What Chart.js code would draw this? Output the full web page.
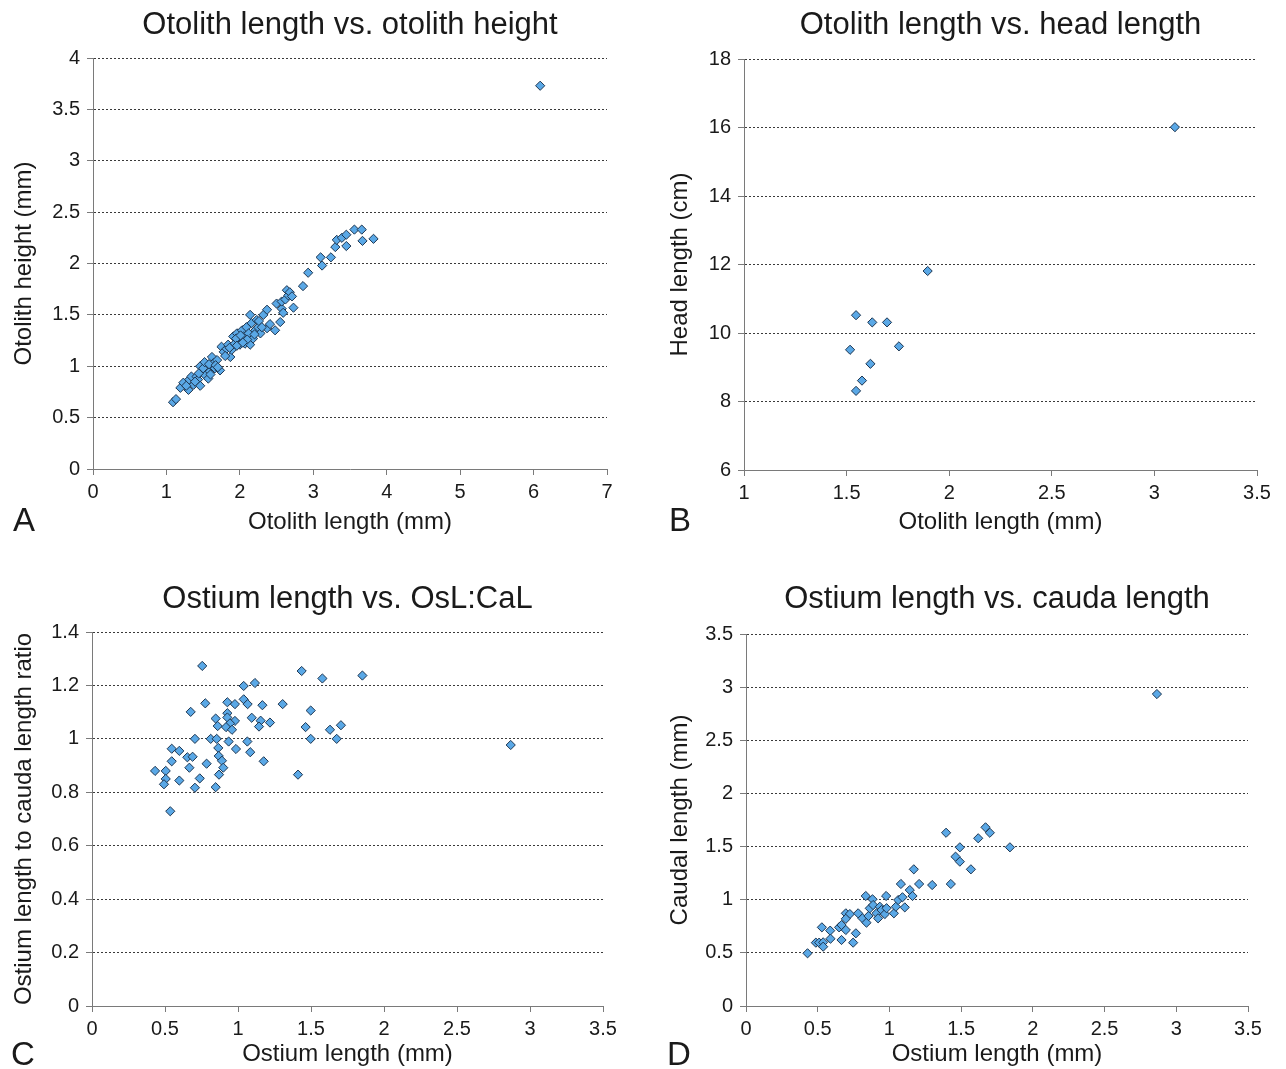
<!DOCTYPE html>
<html>
<head>
<meta charset="utf-8">
<script src="https://cdn.jsdelivr.net/npm/chart.js@4/dist/chart.umd.min.js"></script>
<style>
  html, body { margin: 0; padding: 0; background: #fff; }
  #wrap { position: relative; width: 1286px; height: 1069px; }
  #wrap canvas { position: absolute; }
</style>
</head>
<body>
<div id="wrap">
  <canvas id="chartA" width="643" height="540" style="left:0;top:0"></canvas>
  <canvas id="chartB" width="643" height="540" style="left:643px;top:0"></canvas>
  <canvas id="chartC" width="643" height="529" style="left:0;top:540px"></canvas>
  <canvas id="chartD" width="643" height="529" style="left:643px;top:540px"></canvas>
</div>
<script>
// ── DATA ─────────────────────────────────────────
// A: otolith length vs otolith height (mm)
const otoLenA = [
  1.09, 1.13, 1.19, 1.23, 1.30, 1.31, 1.34, 1.37, 1.41, 1.43, 1.46, 1.46, 1.49, 1.53,
  1.55, 1.57, 1.59, 1.62, 1.62, 1.64, 1.66, 1.69, 1.73, 1.75, 1.78, 1.82, 1.84, 1.87,
  1.89, 1.91, 1.93, 1.96, 1.98, 2.00, 2.03, 2.05, 2.07, 2.09, 2.12, 2.14, 2.16, 2.14,
  2.18, 2.21, 2.23, 2.25, 2.28, 2.32, 2.37, 2.37, 2.48, 2.55, 2.50, 2.57, 2.59, 2.57,
  2.62, 2.64, 2.66, 2.68, 2.71, 2.73, 2.86, 2.93, 3.10, 3.12, 3.24, 3.30, 3.32, 3.39,
  3.45, 3.45, 3.56, 3.66, 3.67, 3.82, 6.09,
  1.50, 1.52, 1.58, 1.60, 1.67, 1.70, 1.44, 1.39, 1.27, 1.80, 1.86, 1.95, 2.01, 2.10,
  2.20, 2.26, 1.96, 2.04, 2.30, 2.41
];
const otoHgtA = [
  0.65, 0.68, 0.79, 0.84, 0.77, 0.87, 0.90, 0.82, 0.90, 0.87, 0.81, 1.00, 0.95, 0.91,
  1.00, 0.88, 0.95, 1.09, 1.00, 1.03, 0.98, 1.06, 0.96, 1.19, 1.14, 1.17, 1.21, 1.09,
  1.16, 1.29, 1.22, 1.32, 1.26, 1.21, 1.35, 1.29, 1.22, 1.38, 1.32, 1.50, 1.42, 1.21,
  1.27, 1.35, 1.45, 1.38, 1.32, 1.50, 1.37, 1.55, 1.35, 1.43, 1.61, 1.56, 1.52, 1.63,
  1.65, 1.74, 1.69, 1.72, 1.68, 1.57, 1.78, 1.91, 2.06, 1.98, 2.06, 2.16, 2.23, 2.25,
  2.28, 2.17, 2.33, 2.33, 2.22, 2.24, 3.73,
  0.98, 1.04, 1.02, 0.92, 1.01, 0.99, 0.93, 0.85, 0.81, 1.10, 1.18, 1.27, 1.30, 1.26,
  1.31, 1.44, 1.20, 1.23, 1.38, 1.41
];
const xTicksA = [0, 1, 2, 3, 4, 5, 6, 7];
const yTicksA = [0, 0.5, 1, 1.5, 2, 2.5, 3, 3.5, 4];

// B: otolith length (mm) vs head length (cm)
const otoLenB  = [1.895, 1.546, 1.625, 1.697, 1.517, 1.755, 1.616, 1.575, 1.546, 3.10];
const headLenB = [11.81, 10.52, 10.31, 10.31, 9.51, 9.61, 9.10, 8.61, 8.31, 16.01];
const xTicksB = [1, 1.5, 2, 2.5, 3, 3.5];
const yTicksB = [6, 8, 10, 12, 14, 16, 18];

// C: ostium length (mm) vs OsL:CaL ratio
const ostLenC = [
  0.755, 1.436, 1.578, 1.852, 1.039, 1.116, 0.776, 0.927, 0.979, 1.039, 1.066, 1.167,
  1.306, 0.676, 1.498, 0.927, 0.847, 0.927, 0.979, 1.094, 1.155, 1.219, 0.945, 0.861,
  0.918, 0.959, 1.144, 1.463, 1.630, 1.705, 0.705, 0.813, 0.854, 0.936, 1.064, 1.498,
  1.676, 0.546, 0.598, 0.865, 0.986, 1.084, 0.653, 0.689, 0.546, 0.868, 0.890, 0.785,
  1.176, 0.667, 0.899, 0.432, 0.505, 0.870, 1.411, 0.505, 0.598, 0.738, 0.493, 0.705,
  0.847, 0.536, 2.868
];
const ratioC = [
  1.273, 1.254, 1.226, 1.237, 1.198, 1.209, 1.133, 1.137, 1.130, 1.148, 1.130, 1.126,
  1.130, 1.101, 1.106, 1.096, 1.076, 1.080, 1.067, 1.079, 1.068, 1.061, 1.058, 1.048,
  1.044, 1.034, 1.046, 1.044, 1.034, 1.051, 1.000, 1.000, 1.000, 0.990, 0.990, 1.000,
  1.000, 0.963, 0.955, 0.966, 0.962, 0.950, 0.931, 0.933, 0.916, 0.936, 0.918, 0.907,
  0.916, 0.892, 0.892, 0.880, 0.880, 0.866, 0.866, 0.850, 0.844, 0.852, 0.830, 0.817,
  0.819, 0.729, 0.977
];
const xTicksC = [0, 0.5, 1, 1.5, 2, 2.5, 3, 3.5];
const yTicksC = [0, 0.2, 0.4, 0.6, 0.8, 1, 1.2, 1.4];

// D: ostium length vs cauda length (mm)
const ostLenD = [
  0.429, 0.487, 0.510, 0.538, 0.538, 0.529, 0.587, 0.589, 0.649, 0.666, 0.696, 0.666,
  0.696, 0.724, 0.696, 0.747, 0.766, 0.782, 0.812, 0.835, 0.840, 0.854, 0.863, 0.882,
  0.886, 0.910, 0.921, 0.933, 0.945, 0.968, 0.977, 0.980, 1.031, 1.045, 1.061, 1.091,
  1.107, 1.080, 1.142, 1.161, 1.170, 1.207, 1.298, 1.395, 1.428, 1.461, 1.491, 1.491,
  1.568, 1.619, 1.670, 1.700, 1.840, 2.865
];
const caudaD = [
  0.496, 0.596, 0.596, 0.599, 0.558, 0.740, 0.709, 0.633, 0.740, 0.762, 0.715, 0.621,
  0.872, 0.865, 0.820, 0.596, 0.684, 0.872, 0.825, 1.035, 0.784, 0.847, 0.919, 1.004,
  0.950, 0.872, 0.825, 0.934, 0.903, 0.865, 1.035, 0.920, 0.872, 0.934, 0.997, 1.023,
  0.928, 1.148, 1.091, 1.035, 1.286, 1.148, 1.138, 1.630, 1.148, 1.405, 1.358, 1.493,
  1.286, 1.578, 1.681, 1.630, 1.493, 2.935
];
const xTicksD = [0, 0.5, 1, 1.5, 2, 2.5, 3, 3.5];
const yTicksD = [0, 0.5, 1, 1.5, 2, 2.5, 3, 3.5];

// ── STYLE ────────────────────────────────────────
const FONT      = '"Liberation Sans", Arial, Helvetica, sans-serif';
const INK       = "#1a1a1a";
const AXIS_GREY = "#7a7a7a";
const GRID_GREY = "#3a3a3a";
const DOT_FILL  = "#5aa8e6";
const DOT_LINE  = "#1d3550";

// titles + panel letters, title centred over the plot area
const panelText = {
  id: "panelText",
  afterDraw(chart, args, o) {
    const { ctx, chartArea } = chart;
    ctx.save();
    ctx.fillStyle = INK;
    ctx.textBaseline = "alphabetic";
    ctx.font = "31px " + FONT;
    ctx.textAlign = "center";
    ctx.fillText(o.title, (chartArea.left + chartArea.right) / 2, o.titleY);
    ctx.font = "33px " + FONT;
    ctx.textAlign = "left";
    ctx.fillText(o.letter, o.letterX, o.letterY);
    ctx.restore();
  },
};

function pts(xs, ys) {
  return xs.map((x, i) => ({ x, y: ys[i] }));
}

// "1" not "1.0", like the original spreadsheet axes
const plainLabel = v => String(v);

function makePanel(id, p) {
  new Chart(document.getElementById(id), {
    type: "scatter",
    data: {
      datasets: [{
        data:            pts(p.xs, p.ys),
        pointStyle:      "rectRot",
        pointRadius:     4.6,
        backgroundColor: DOT_FILL,
        borderColor:     DOT_LINE,
        borderWidth:     1,
      }],
    },
    options: {
      responsive: false,
      animation:  false,
      devicePixelRatio: 1,
      layout: { padding: { top: p.top, right: p.right, left: 0, bottom: 0 } },
      plugins: {
        legend:  { display: false },
        tooltip: { enabled: false },
        panelText: p.text,
      },
      scales: {
        x: {
          type: "linear",
          min: p.xTicks[0],
          max: p.xTicks[p.xTicks.length - 1],
          afterBuildTicks: s => { s.ticks = p.xTicks.map(v => ({ value: v })); },
          afterFit: s => { s.height = p.xH; },
          grid: {
            drawOnChartArea: false,
            drawTicks: true,
            tickLength: 6,
            color: AXIS_GREY,
          },
          border: { display: true, color: AXIS_GREY, width: 1 },
          ticks: {
            color: INK, font: { family: FONT, size: 20 }, padding: 5, maxRotation: 0,
            callback: plainLabel,
          },
          title: {
            display: true,
            text: p.xTitle,
            color: INK,
            font: { family: FONT, size: 24, lineHeight: 1.2 },
            padding: { top: 0, bottom: p.xTitlePad },
          },
        },
        y: {
          type: "linear",
          min: p.yTicks[0],
          max: p.yTicks[p.yTicks.length - 1],
          afterBuildTicks: s => { s.ticks = p.yTicks.map(v => ({ value: v })); },
          afterFit: s => { s.width = p.yW; },
          grid: {
            drawTicks: true,
            tickLength: 6,
            tickColor: AXIS_GREY,
            tickBorderDash: [],
            color: c => c.tick && c.tick.value === p.yTicks[0] ? "rgba(0,0,0,0)" : GRID_GREY,
          },
          border: { display: true, color: AXIS_GREY, width: 1, dash: [2, 2] },
          ticks: {
            color: INK, font: { family: FONT, size: 20 }, padding: 7,
            callback: plainLabel,
          },
          title: {
            display: true,
            text: p.yTitle,
            color: INK,
            font: { family: FONT, size: 24, lineHeight: 1.2 },
            padding: { top: p.yTitlePad, bottom: 0 },
          },
        },
      },
    },
    plugins: [panelText],
  });
}

// ── PANELS ───────────────────────────────────────
makePanel("chartA", {
  xs: otoLenA, ys: otoHgtA, xTicks: xTicksA, yTicks: yTicksA,
  top: 58, right: 36, yW: 93, xH: 71, xTitlePad: 3, yTitlePad: 10,
  xTitle: "Otolith length (mm)", yTitle: "Otolith height (mm)",
  text: { title: "Otolith length vs. otolith height", titleY: 34, letter: "A", letterX: 13, letterY: 531 },
});

makePanel("chartB", {
  xs: otoLenB, ys: headLenB, xTicks: xTicksB, yTicks: yTicksB,
  top: 59, right: 29, yW: 101, xH: 70, xTitlePad: 3, yTitlePad: 23,
  xTitle: "Otolith length (mm)", yTitle: "Head length (cm)",
  text: { title: "Otolith length vs. head length", titleY: 34, letter: "B", letterX: 26, letterY: 531 },
});

makePanel("chartC", {
  xs: ostLenC, ys: ratioC, xTicks: xTicksC, yTicks: yTicksC,
  top: 92, right: 40, yW: 92, xH: 63, xTitlePad: 0, yTitlePad: 10,
  xTitle: "Ostium length (mm)", yTitle: "Ostium length to cauda length ratio",
  text: { title: "Ostium length vs. OsL:CaL", titleY: 68, letter: "C", letterX: 11, letterY: 525 },
});

makePanel("chartD", {
  xs: ostLenD, ys: caudaD, xTicks: xTicksD, yTicks: yTicksD,
  top: 94, right: 38, yW: 103, xH: 63, xTitlePad: 0, yTitlePad: 23,
  xTitle: "Ostium length (mm)", yTitle: "Caudal length (mm)",
  text: { title: "Ostium length vs. cauda length", titleY: 68, letter: "D", letterX: 24, letterY: 525 },
});
</script>
</body>
</html>
